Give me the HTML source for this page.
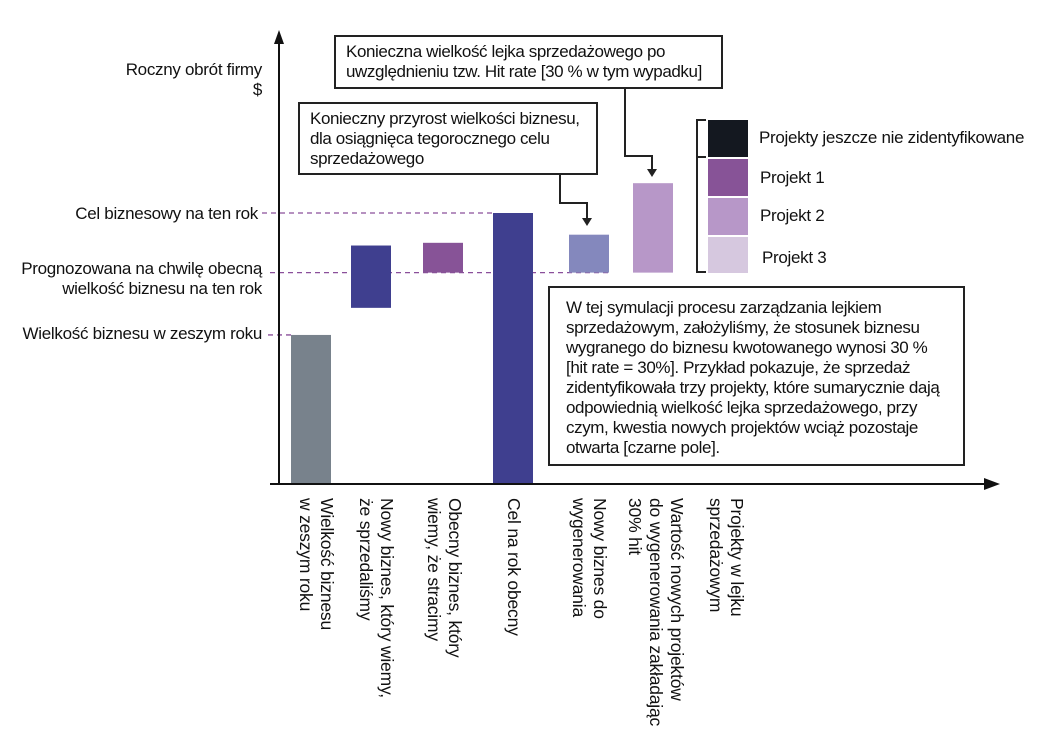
<!DOCTYPE html>
<html><head><meta charset="utf-8"><style>
body{margin:0;background:#fff;width:1053px;height:743px;overflow:hidden;position:relative;font-family:"Liberation Sans",Arial,sans-serif;color:#111}
.t{position:absolute;font-size:17px;letter-spacing:-0.3px;white-space:nowrap;line-height:20px}
.r{text-align:right}
.box{position:absolute;border:2px solid #222;box-sizing:border-box;font-size:17px;letter-spacing:-0.4px;line-height:20px;background:#fff;white-space:nowrap}
.v{position:absolute;top:498px;writing-mode:vertical-rl;font-size:17.5px;line-height:21px;letter-spacing:-0.2px;white-space:nowrap}
</style></head><body>
<svg id="chart" width="1053" height="743" style="position:absolute;left:0;top:0">
  <g id="grid"></g>
  <g id="bars"></g>
  <line x1="279" y1="40" x2="279" y2="484" stroke="#111" stroke-width="2"/>
  <polygon points="279,30 274,44 284,44" fill="#111"/>
  <line x1="270" y1="484" x2="988" y2="484" stroke="#111" stroke-width="2"/>
  <polygon points="1000,484 984,478 984,490" fill="#111"/>
  <polyline points="560,175 560,203 587,203 587,222" fill="none" stroke="#222" stroke-width="2"/>
  <polygon points="587,226 582,218 592,218" fill="#222"/>
  <polyline points="625,89 625,156 652,156 652,173" fill="none" stroke="#222" stroke-width="2"/>
  <polygon points="652,177 647,169 657,169" fill="#222"/>
  <polyline points="706,120 697,120 697,272 706,272" fill="none" stroke="#222" stroke-width="2"/>
  <line x1="697" y1="157" x2="706" y2="157" stroke="#222" stroke-width="2"/>
  <rect x="708" y="120" width="40" height="37" fill="#141820"/>
  <rect x="708" y="159" width="40" height="37" fill="#875397"/>
  <rect x="708" y="198" width="40" height="37" fill="#b797c8"/>
  <rect x="708" y="237" width="40" height="36" fill="#d6c8df"/>
</svg>
<script>
const categories=["last-year","new-sold","lost","target","to-generate","pipeline-needed"];
const barStart=[0,65,78,0,78,78];
const barEnd=[55,88,89,100,92,111];
const barColors=["#78828c","#3f3f8f","#875397","#3f3f8f","#8488bd","#b797c8"];
const refNames=["target-line","forecast-line","last-year-line"];
const refValues=[100,78,55];
const refX1=[262,270,268];
const refX2=[493,609,291];
const y=v=>484-v*2.71;
const xPos=i=>[291,351,423,493,569,633][i];
const ns="http://www.w3.org/2000/svg";
const bars=document.getElementById('bars'),grid=document.getElementById('grid');
refValues.forEach((v,i)=>{
  const l=document.createElementNS(ns,'line');
  
  
  l.setAttribute('x1',refX1[i]);l.setAttribute('x2',refX2[i]);
  l.setAttribute('y1',y(v));l.setAttribute('y2',y(v));
  l.setAttribute('stroke','#8a4f9a');l.setAttribute('stroke-width','1.3');l.setAttribute('stroke-dasharray','5,4');
  grid.appendChild(l);
});
categories.forEach((c,i)=>{
  const r=document.createElementNS(ns,'rect');
  
  
  r.setAttribute('x',xPos(i));r.setAttribute('width',40);
  r.setAttribute('y',y(barEnd[i]));r.setAttribute('height',y(barStart[i])-y(barEnd[i]));
  r.setAttribute('fill',barColors[i]);
  bars.appendChild(r);
});
</script>
<div class="t r" style="right:791px;top:60px">Roczny obrót firmy<br>$</div>
<div class="t r" style="right:795px;top:204px">Cel biznesowy na ten rok</div>
<div class="t r" style="right:791px;top:259px">Prognozowana na chwilę obecną<br>wielkość biznesu na ten rok</div>
<div class="t r" style="right:791px;top:324px">Wielkość biznesu w zeszym roku</div>
<div class="box" style="left:334px;top:35px;width:389px;height:54px;padding:5px 0 0 10px">Konieczna wielkość lejka sprzedażowego po<br>uwzględnieniu tzw. Hit rate [30 % w tym wypadku]</div>
<div class="box" style="left:298px;top:102px;width:300px;height:73px;padding:5px 0 0 10px">Konieczny przyrost wielkości biznesu,<br>dla osiągnięca tegorocznego celu<br>sprzedażowego</div>
<div class="box" style="left:548px;top:286px;width:417px;height:180px;padding:10px 0 0 16px">W tej symulacji procesu zarządzania lejkiem<br>sprzedażowym, założyliśmy, że stosunek biznesu<br>wygranego do biznesu kwotowanego wynosi 30 %<br>[hit rate = 30%]. Przykład pokazuje, że sprzedaż<br>zidentyfikowała trzy projekty, które sumarycznie dają<br>odpowiednią wielkość lejka sprzedażowego, przy<br>czym, kwestia nowych projektów wciąż pozostaje<br>otwarta [czarne pole].</div>
<div class="t" style="left:759px;top:128px">Projekty jeszcze nie zidentyfikowane</div>
<div class="t" style="left:760px;top:168px">Projekt 1</div>
<div class="t" style="left:760px;top:206px">Projekt 2</div>
<div class="t" style="left:762px;top:248px">Projekt 3</div>
<div class="v" style="left:295px">Wielkość biznesu<br>w zeszym roku</div>
<div class="v" style="left:355px">Nowy biznes, który wiemy,<br>że sprzedaliśmy</div>
<div class="v" style="left:423px">Obecny biznes, który<br>wiemy, że stracimy</div>
<div class="v" style="left:503px">Cel na rok obecny</div>
<div class="v" style="left:568px">Nowy biznes do<br>wygenerowania</div>
<div class="v" style="left:624px">Wartość nowych projektów<br>do wygenerowania zakładając<br>30% hit</div>
<div class="v" style="left:705px">Projekty w lejku<br>sprzedażowym</div>
</body></html>
